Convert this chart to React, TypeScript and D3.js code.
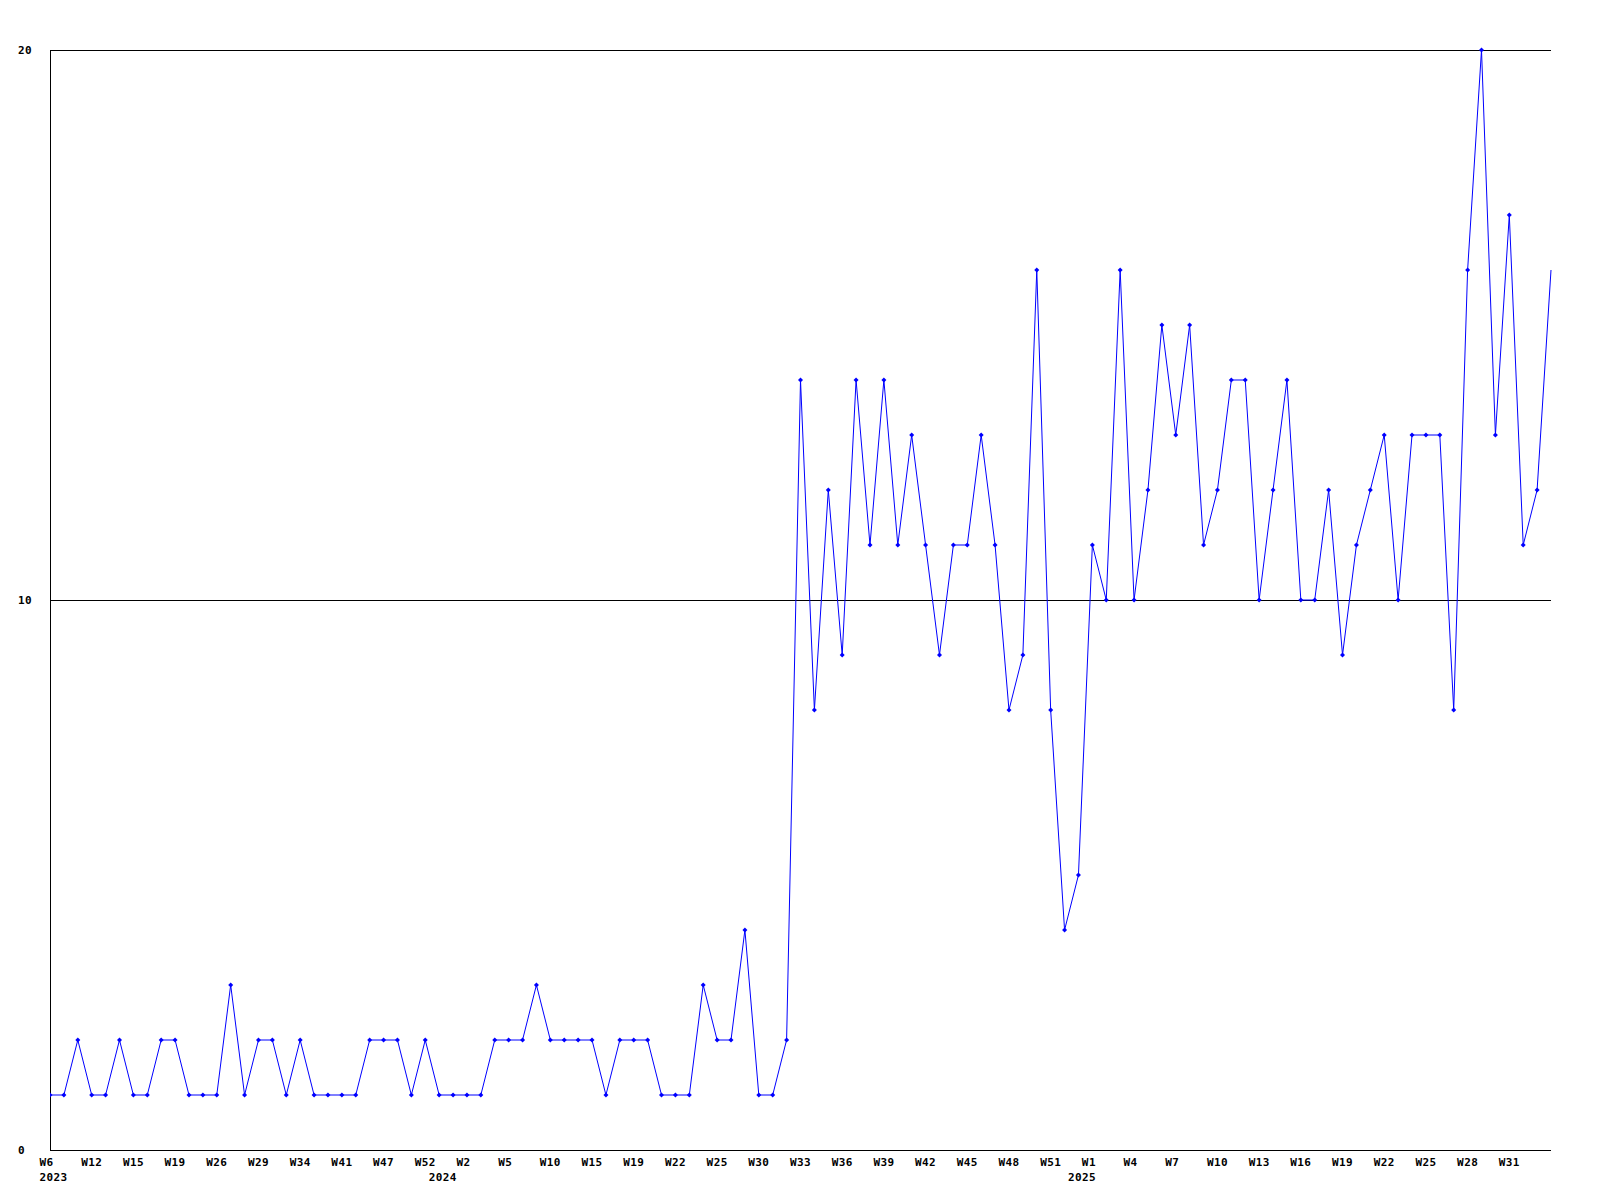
import React from "react";
import * as d3 from "d3";

// Weekly values (sequential points)
const values: number[] = [
  1, 1, 2, 1, 1, 2, 1, 1, 2, 2,
  1, 1, 1, 3, 1, 2, 2, 1, 2, 1,
  1, 1, 1, 2, 2, 2, 1, 2, 1, 1,
  1, 1, 2, 2, 2, 3, 2, 2, 2, 2,
  1, 2, 2, 2, 1, 1, 1, 3, 2, 2,
  4, 1, 1, 2, 14, 8, 12, 9, 14, 11,
  14, 11, 13, 11, 9, 11, 11, 13, 11, 8,
  9, 16, 8, 4, 5, 11, 10, 16, 10, 12,
  15, 13, 15, 11, 12, 14, 14, 10, 12, 14,
  10, 10, 12, 9, 11, 12, 13, 10, 13, 13,
  13, 8, 16, 20, 13, 17, 11, 12, 16,
];

// Week tick labels, one every 3 points
const weekLabels: string[] = [
  "W6", "W12", "W15", "W19", "W26", "W29", "W34", "W41", "W47", "W52",
  "W2", "W5", "W10", "W15", "W19", "W22", "W25", "W30", "W33", "W36",
  "W39", "W42", "W45", "W48", "W51", "W1", "W4", "W7", "W10", "W13",
  "W16", "W19", "W22", "W25", "W28", "W31",
];
const weekLabelStep = 3;

// Year labels and the point index where each starts
const yearLabels: string[] = ["2023", "2024", "2025"];
const yearIndices: number[] = [0, 28, 74];

// Y gridline values
const yTicks: number[] = [0, 10, 20];

export default function App() {
  const W = 1600;
  const H = 1200;
  const left = 50;
  const right = 1551;
  const top = 50;
  const bottom = 1150;

  const x = d3.scaleLinear().domain([0, values.length - 1]).range([left, right]);
  const y = d3.scaleLinear().domain([0, 20]).range([bottom, top]);

  const line = d3
    .line<number>()
    .x((_, i) => x(i))
    .y((d) => y(d));

  const font = {
    fontFamily: "'DejaVu Sans Mono', monospace",
    fontWeight: "bold" as const,
    fontSize: 11,
    letterSpacing: "0.4px",
  };
  const charW = 7;

  const diamond = (cx: number, cy: number) =>
    `M${cx},${cy - 2.5}L${cx + 2.5},${cy}L${cx},${cy + 2.5}L${cx - 2.5},${cy}Z`;

  return (
    <svg
      width={W}
      height={H}
      style={{ position: "absolute", left: 0, top: 0, background: "#fff" }}
    >
      <rect x={0} y={0} width={W} height={H} fill="#fff" />
      <defs>
        <clipPath id="plot">
          <rect x={left} y={top - 3} width={right - left + 1} height={bottom - top + 6} />
        </clipPath>
      </defs>
      {/* gridlines */}
      {yTicks
        .filter((t) => t > 0)
        .map((t) => (
          <line
            key={t}
            x1={left}
            x2={right}
            y1={Math.round(y(t)) + 0.5}
            y2={Math.round(y(t)) + 0.5}
            stroke="#000"
            strokeWidth={1}
            shapeRendering="crispEdges"
          />
        ))}
      {/* axes */}
      <line
        x1={left + 0.5}
        x2={left + 0.5}
        y1={top}
        y2={bottom + 1}
        stroke="#000"
        shapeRendering="crispEdges"
      />
      <line
        x1={left}
        x2={right}
        y1={bottom + 0.5}
        y2={bottom + 0.5}
        stroke="#000"
        shapeRendering="crispEdges"
      />
      {/* y labels */}
      {yTicks.map((t) => (
        <text key={t} x={18} y={y(t) + 3.5} {...font} fill="#000">
          {t}
        </text>
      ))}
      {/* week labels */}
      {weekLabels.map((lab, i) => (
        <text
          key={"w" + i}
          x={x(i * weekLabelStep) - 1.5 * charW}
          y={1166}
          {...font}
          fill="#000"
        >
          {lab}
        </text>
      ))}
      {/* year labels */}
      {yearLabels.map((lab, i) => (
        <text
          key={"y" + i}
          x={x(yearIndices[i]) - 1.5 * charW}
          y={1181}
          {...font}
          fill="#000"
        >
          {lab}
        </text>
      ))}
      {/* series */}
      <g clipPath="url(#plot)">
        <path
          d={line(values) || ""}
          fill="none"
          stroke="#0000ff"
          strokeWidth={1}
        />
        {values.slice(0, values.length - 1).map((v, i) => (
          <path key={i} d={diamond(x(i), y(v))} fill="#0000ff" />
        ))}
      </g>
    </svg>
  );
}
